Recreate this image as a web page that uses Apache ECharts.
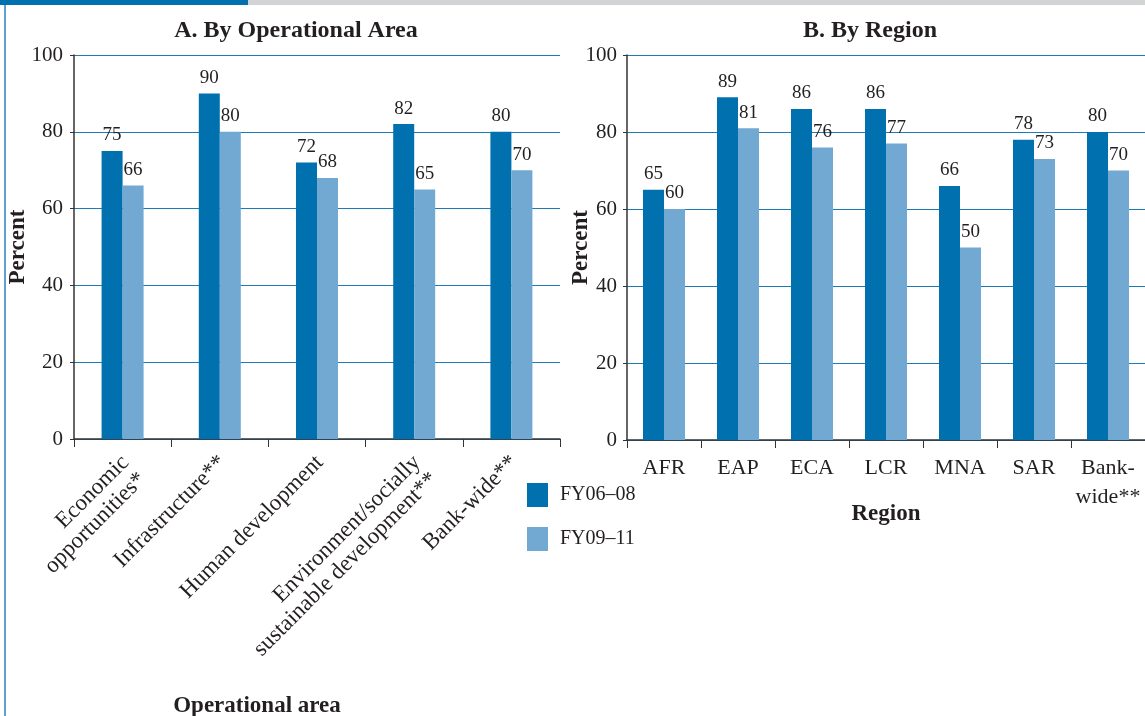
<!DOCTYPE html>
<html><head><meta charset="utf-8">
<script src="https://cdn.jsdelivr.net/npm/echarts@6/dist/echarts.min.js"></script>
<style>html,body{margin:0;padding:0;background:#fff}#c{width:1145px;height:716px}</style>
</head><body><div id="c"></div>
<script>
const areaCategories = ['Economic\nopportunities*', 'Infrastructure**', 'Human development', 'Environment/socially\nsustainable development**', 'Bank-wide**'];
const areaFY0608 = [75, 90, 72, 82, 80];
const areaFY0911 = [66, 80, 68, 65, 70];
const regionCategories = ['AFR', 'EAP', 'ECA', 'LCR', 'MNA', 'SAR', 'Bank-\nwide**'];
const regionFY0608 = [65, 89, 86, 86, 66, 78, 80];
const regionFY0911 = [60, 81, 76, 77, 50, 73, 70];
const seriesNames = ['FY06–08', 'FY09–11'];
const yTicks = {min: 0, max: 100, interval: 20};

const FONT = 'Liberation Serif';
const TXT = '#231f20';
const DARK = '#0071ae';
const LIGHT = '#72a9d3';
const GRID = '#1f7ab8';

function yAxis(gridIndex, gap, margin) {
  return {
    type: 'value', gridIndex, min: yTicks.min, max: yTicks.max, interval: yTicks.interval,
    name: 'Percent', nameLocation: 'middle', nameGap: gap, nameRotate: 90, nameMoveOverlap: false,
    nameTextStyle: {fontFamily: FONT, fontWeight: 'bold', fontSize: 23, color: TXT},
    axisLine: {show: true, lineStyle: {color: '#333', width: 1.5}},
    axisTick: {show: true, length: 4, lineStyle: {color: '#333'}},
    axisLabel: {fontFamily: FONT, fontSize: 21, color: TXT, margin},
    splitLine: {show: true, lineStyle: {color: GRID, width: 1}}
  };
}
function bar(name, data, color, xi, yi) {
  return {
    type: 'bar', name, data, xAxisIndex: xi, yAxisIndex: yi,
    barWidth: 21, barGap: '0%',
    itemStyle: {color},
    label: {show: true, position: 'top', distance: 6, fontFamily: FONT, fontSize: 19, color: TXT}
  };
}

const chart = echarts.init(document.getElementById('c'));
chart.setOption({
  animation: false,
  title: [
    {text: 'A. By Operational Area', left: 291, top: 14, textAlign: 'center',
     textStyle: {fontFamily: FONT, fontWeight: 'bold', fontSize: 24, color: TXT}},
    {text: 'B. By Region', left: 865, top: 14, textAlign: 'center',
     textStyle: {fontFamily: FONT, fontWeight: 'bold', fontSize: 24, color: TXT}}
  ],
  graphic: [
    {type: 'rect', shape: {x: 0, y: 0, width: 248, height: 5}, style: {fill: DARK}},
    {type: 'rect', shape: {x: 248, y: 0, width: 897, height: 5}, style: {fill: '#d1d3d4'}},
    {type: 'rect', shape: {x: 4, y: 5, width: 2, height: 711}, style: {fill: '#5ba3d3'}},
    {type: 'text', x: 257, y: 706, style: {text: 'Operational area', fontFamily: FONT, fontWeight: 'bold',
      fontSize: 23, fill: TXT, align: 'center', verticalAlign: 'middle'}}
  ],
  legend: {
    orient: 'vertical', left: 527, top: 483, padding: 0, itemWidth: 21, itemHeight: 24, itemGap: 20,
    icon: 'rect', data: seriesNames,
    textStyle: {fontFamily: FONT, fontSize: 20, color: TXT, padding: [0, 0, 0, 7]}
  },
  grid: [
    {left: 74, top: 55, width: 486, height: 384, outerBoundsMode: 'none', containLabel: false},
    {left: 627, top: 55, width: 518, height: 385, outerBoundsMode: 'none', containLabel: false}
  ],
  xAxis: [
    {type: 'category', gridIndex: 0, data: areaCategories,
     axisLine: {lineStyle: {color: '#333', width: 1.5}},
     axisTick: {show: true, length: 8, lineStyle: {color: '#333'}},
     axisLabel: {interval: 0, rotate: 45, fontFamily: FONT, fontSize: 23, lineHeight: 24, color: TXT,
       margin: 6, align: 'right', verticalAlign: 'top', padding: [0, 8, 0, 0]}},
    {type: 'category', gridIndex: 1, data: regionCategories,
     name: 'Region', nameLocation: 'middle', nameGap: 63, nameMoveOverlap: false,
     nameTextStyle: {fontFamily: FONT, fontWeight: 'bold', fontSize: 23, color: TXT},
     axisLine: {lineStyle: {color: '#333', width: 1.5}},
     axisTick: {show: true, length: 8, lineStyle: {color: '#333'}},
     axisLabel: {interval: 0, fontFamily: FONT, fontSize: 22, lineHeight: 29, color: TXT, margin: 14, verticalAlign: 'top'}}
  ],
  yAxis: [yAxis(0, 44, 11), yAxis(1, 34, 10)],
  series: [
    bar(seriesNames[0], areaFY0608, DARK, 0, 0),
    bar(seriesNames[1], areaFY0911, LIGHT, 0, 0),
    bar(seriesNames[0], regionFY0608, DARK, 1, 1),
    bar(seriesNames[1], regionFY0911, LIGHT, 1, 1)
  ]
});
</script></body></html>
